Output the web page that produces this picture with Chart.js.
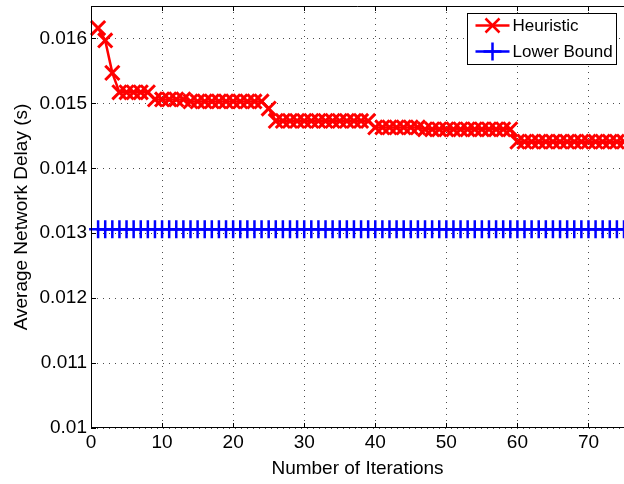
<!DOCTYPE html>
<html>
<head>
<meta charset="utf-8">
<script src="https://cdn.jsdelivr.net/npm/chart.js@4/dist/chart.umd.min.js"></script>
<style>
  html, body { margin: 0; padding: 0; background: #fff; }
  #wrap { width: 624px; height: 484px; position: relative; }
</style>
</head>
<body>
<div id="wrap"><canvas id="c" width="624" height="484"></canvas></div>
<script>
// Iteration index (x axis)
const iterations = [1,2,3,4,5,6,7,8,9,10,11,12,13,14,15,16,17,18,19,20,21,22,23,24,25,
  26,27,28,29,30,31,32,33,34,35,36,37,38,39,40,41,42,43,44,45,46,47,48,49,50,
  51,52,53,54,55,56,57,58,59,60,61,62,63,64,65,66,67,68,69,70,71,72,73,74,75];

// Average network delay (s) found by the heuristic at each iteration
const heuristicDelay = [0.01616, 0.01597, 0.01547,
  0.01517, 0.01517, 0.01517, 0.01517, 0.01517,
  0.01506, 0.01506, 0.01506, 0.01506, 0.01506,
  0.01503, 0.01503, 0.01503, 0.01503, 0.01503, 0.01503, 0.01503, 0.01503, 0.01503, 0.01503, 0.01503,
  0.01492,
  0.01473, 0.01473, 0.01473, 0.01473, 0.01473, 0.01473, 0.01473, 0.01473, 0.01473, 0.01473, 0.01473, 0.01473, 0.01473, 0.01473,
  0.01463, 0.01463, 0.01463, 0.01463, 0.01463, 0.01463, 0.01463,
  0.01460, 0.01460, 0.01460, 0.01460, 0.01460, 0.01460, 0.01460, 0.01460, 0.01460, 0.01460, 0.01460, 0.01460, 0.01460,
  0.01441, 0.01441, 0.01441, 0.01441, 0.01441, 0.01441, 0.01441, 0.01441, 0.01441, 0.01441, 0.01441, 0.01441, 0.01441, 0.01441, 0.01441, 0.01441];

// Lower bound on the average network delay (s)
const lowerBound = [0.01306, 0.01306, 0.01306, 0.01306, 0.01306, 0.01306, 0.01306, 0.01306, 0.01306, 0.01306,
  0.01306, 0.01306, 0.01306, 0.01306, 0.01306, 0.01306, 0.01306, 0.01306, 0.01306, 0.01306,
  0.01306, 0.01306, 0.01306, 0.01306, 0.01306, 0.01306, 0.01306, 0.01306, 0.01306, 0.01306,
  0.01306, 0.01306, 0.01306, 0.01306, 0.01306, 0.01306, 0.01306, 0.01306, 0.01306, 0.01306,
  0.01306, 0.01306, 0.01306, 0.01306, 0.01306, 0.01306, 0.01306, 0.01306, 0.01306, 0.01306,
  0.01306, 0.01306, 0.01306, 0.01306, 0.01306, 0.01306, 0.01306, 0.01306, 0.01306, 0.01306,
  0.01306, 0.01306, 0.01306, 0.01306, 0.01306, 0.01306, 0.01306, 0.01306, 0.01306, 0.01306,
  0.01306, 0.01306, 0.01306, 0.01306, 0.01306];

const xTicks = [0, 10, 20, 30, 40, 50, 60, 70];
const yTicks = [0.01, 0.011, 0.012, 0.013, 0.014, 0.015, 0.016];

const seriesNames = ['Heuristic', 'Lower Bound'];
const seriesColors = ['#ff0000', '#0000ff'];
const seriesMarkers = ['crossRot', 'cross'];

const FONT = 'Liberation Sans, Arial, sans-serif';

const toPoints = (xs, ys) => xs.map((x, i) => ({ x: x, y: ys[i] }));

// Box around the axes plus inward tick marks
const axesBox = {
  id: 'axesBox',
  afterDraw(chart) {
    const { ctx, chartArea: a, scales } = chart;
    ctx.save();
    ctx.strokeStyle = '#000';
    ctx.lineWidth = 1;
    ctx.beginPath();
    ctx.moveTo(a.left + 0.5, a.top + 0.5);
    ctx.lineTo(a.right, a.top + 0.5);
    ctx.moveTo(a.left + 0.5, a.top);
    ctx.lineTo(a.left + 0.5, a.bottom);
    ctx.moveTo(a.left, a.bottom - 0.5);
    ctx.lineTo(a.right, a.bottom - 0.5);
    const tl = 5;
    xTicks.forEach(v => {
      const px = Math.round(scales.x.getPixelForValue(v)) + 0.5;
      ctx.moveTo(px, a.bottom);
      ctx.lineTo(px, a.bottom - tl);
      ctx.moveTo(px, a.top);
      ctx.lineTo(px, a.top + tl);
    });
    yTicks.forEach(v => {
      const py = Math.round(scales.y.getPixelForValue(v)) + 0.5;
      ctx.moveTo(a.left, py);
      ctx.lineTo(a.left + tl, py);
    });
    ctx.stroke();
    ctx.restore();
  }
};

// Legend with line + marker samples in a framed box
const boxLegend = {
  id: 'boxLegend',
  afterDraw(chart) {
    const { ctx } = chart;
    const bx = 467.5, by = 13.5, bw = 149, bh = 51;
    ctx.save();
    ctx.fillStyle = '#fff';
    ctx.fillRect(bx, by, bw, bh);
    ctx.strokeStyle = '#000';
    ctx.lineWidth = 1;
    ctx.strokeRect(bx, by, bw, bh);
    ctx.font = '17px ' + FONT;
    ctx.textBaseline = 'middle';
    ctx.textAlign = 'left';
    seriesNames.forEach((name, i) => {
      const cy = by + 12 + i * 26;
      ctx.strokeStyle = seriesColors[i];
      ctx.lineWidth = 2.5;
      ctx.beginPath();
      ctx.moveTo(bx + 8, cy);
      ctx.lineTo(bx + 42, cy);
      ctx.stroke();
      ctx.beginPath();
      if (seriesMarkers[i] === 'crossRot') {
        const d = 7;
        ctx.moveTo(bx + 25 - d, cy - d); ctx.lineTo(bx + 25 + d, cy + d);
        ctx.moveTo(bx + 25 - d, cy + d); ctx.lineTo(bx + 25 + d, cy - d);
      } else {
        const d = 9;
        ctx.moveTo(bx + 25, cy - d); ctx.lineTo(bx + 25, cy + d);
        ctx.moveTo(bx + 25 - d, cy); ctx.lineTo(bx + 25 + d, cy);
      }
      ctx.stroke();
      ctx.fillStyle = '#000';
      ctx.fillText(name, bx + 45, cy + 1);
    });
    ctx.restore();
  }
};

new Chart(document.getElementById('c'), {
  type: 'line',
  data: {
    datasets: [
      {
        label: seriesNames[0],
        data: toPoints(iterations, heuristicDelay),
        borderColor: seriesColors[0],
        backgroundColor: seriesColors[0],
        borderWidth: 2.5,
        pointStyle: seriesMarkers[0],
        pointRadius: 10,
        pointBorderWidth: 3,
        pointBorderColor: seriesColors[0],
        tension: 0,
        clip: false
      },
      {
        label: seriesNames[1],
        data: toPoints(iterations, lowerBound),
        borderColor: seriesColors[1],
        backgroundColor: seriesColors[1],
        borderWidth: 2.5,
        pointStyle: seriesMarkers[1],
        pointRadius: 9,
        pointBorderWidth: 2.5,
        pointBorderColor: seriesColors[1],
        tension: 0,
        clip: false
      }
    ]
  },
  options: {
    responsive: false,
    animation: false,
    events: [],
    layout: { autoPadding: false, padding: { left: 0, right: 0, top: 6, bottom: 4 } },
    plugins: {
      legend: { display: false },
      tooltip: { enabled: false }
    },
    scales: {
      x: {
        type: 'linear',
        min: 0,
        max: 75,
        afterBuildTicks: s => { s.ticks = xTicks.map(v => ({ value: v })); },
        afterFit: s => { s.height = 52; s.paddingLeft = 0; s.paddingRight = 0; },
        ticks: {
          includeBounds: false,
          autoSkip: false,
          maxRotation: 0,
          padding: 3,
          color: '#000',
          font: { family: FONT, size: 19 }
        },
        grid: {
          drawTicks: false,
          color: 'rgba(0,0,0,0.7)',
          lineWidth: 1
        },
        border: { display: false, dash: [1, 5] },
        title: {
          display: true,
          text: 'Number of Iterations',
          color: '#000',
          font: { family: FONT, size: 19 },
          padding: { top: 0, bottom: 0 }
        }
      },
      y: {
        type: 'linear',
        min: 0.01,
        max: 0.0165,
        afterBuildTicks: s => { s.ticks = yTicks.map(v => ({ value: v })); },
        afterFit: s => { s.width = 91; s.paddingTop = 0; s.paddingBottom = 0; },
        ticks: {
          includeBounds: false,
          autoSkip: false,
          padding: 4,
          color: '#000',
          font: { family: FONT, size: 19 },
          callback: v => String(+v.toFixed(4))
        },
        grid: {
          drawTicks: false,
          color: 'rgba(0,0,0,0.7)',
          lineWidth: 1
        },
        border: { display: false, dash: [1, 5] },
        title: {
          display: true,
          text: 'Average Network Delay (s)',
          color: '#000',
          font: { family: FONT, size: 19 },
          padding: { top: 10, bottom: 0 }
        }
      }
    }
  },
  plugins: [axesBox, boxLegend]
});
</script>
</body>
</html>
